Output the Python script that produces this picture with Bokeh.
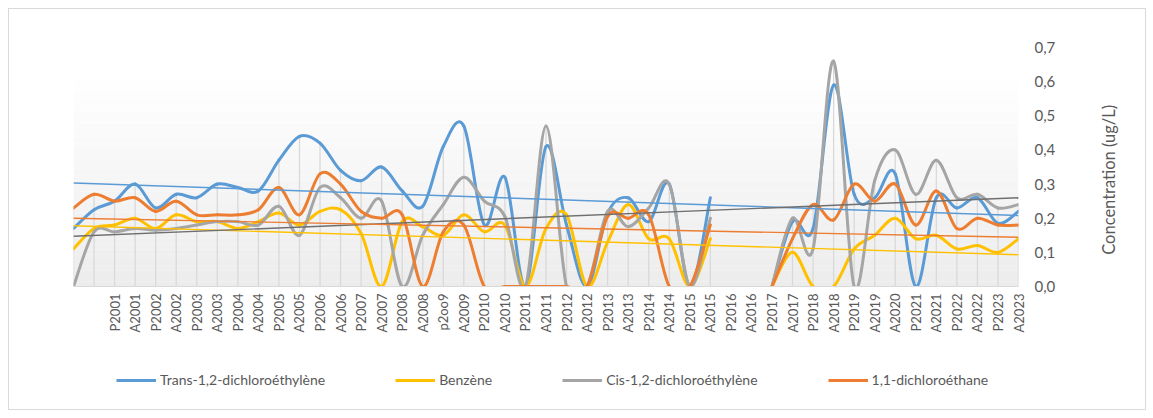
import math
from bokeh.plotting import figure
from bokeh.layouts import column
from bokeh.models import (Range1d, FixedTicker, Legend, LegendItem, LinearAxis,
                          ColumnDataSource)
from bokeh.embed import file_html
from bokeh.resources import INLINE

nan = float("nan")

# ---- data -------------------------------------------------------------
categories = ["", "",
              "P2001", "A2001", "P2002", "A2002", "P2003", "A2003", "P2004", "A2004",
              "P2005", "A2005", "P2006", "A2006", "P2007", "A2007", "P2008", "A2008",
              "p2oo9", "A2009", "P2010", "A2010", "P2011", "A2011", "P2012", "A2012",
              "P2013", "A2013", "P2014", "A2014", "P2015", "A2015", "P2016", "A2016",
              "P2017", "A2017", "P2018", "A2018", "P2019", "A2019", "A2020", "P2021",
              "A2021", "P2022", "A2022", "P2023", "A2023"]

trans_12_dce = [0.17, 0.225, 0.25, 0.30, 0.23, 0.27, 0.26, 0.30, 0.29, 0.28,
                0.37, 0.44, 0.42, 0.34, 0.31, 0.35, 0.28, 0.235, 0.41, 0.47,
                0.18, 0.32, 0.0, 0.41, 0.18, 0.0, 0.215, 0.26, 0.19, 0.30,
                0.0, 0.26, nan, nan, 0.0, 0.19, 0.17, 0.59, 0.27, 0.26,
                0.33, 0.0, 0.26, 0.23, 0.26, 0.185, 0.22]

benzene = [0.11, 0.17, 0.18, 0.20, 0.17, 0.21, 0.19, 0.19, 0.17, 0.19,
           0.215, 0.18, 0.22, 0.225, 0.155, 0.0, 0.19, 0.175, 0.15, 0.21,
           0.16, 0.18, 0.0, 0.17, 0.21, 0.0, 0.13, 0.24, 0.14, 0.14,
           0.0, 0.14, nan, nan, 0.0, 0.10, 0.0, 0.0, 0.11, 0.15,
           0.20, 0.14, 0.15, 0.11, 0.12, 0.10, 0.14]

cis_12_dce = [0.0, 0.16, 0.16, 0.17, 0.165, 0.17, 0.18, 0.19, 0.19, 0.18,
              0.235, 0.15, 0.29, 0.26, 0.20, 0.25, 0.0, 0.15, 0.24, 0.32,
              0.25, 0.205, 0.0, 0.47, 0.0, 0.0, 0.22, 0.175, 0.23, 0.30,
              0.0, 0.20, nan, nan, 0.0, 0.20, 0.11, 0.66, 0.0, 0.31,
              0.40, 0.27, 0.37, 0.26, 0.27, 0.23, 0.24]

dca_11 = [0.23, 0.27, 0.25, 0.26, 0.22, 0.25, 0.21, 0.21, 0.21, 0.225,
          0.29, 0.21, 0.33, 0.30, 0.22, 0.20, 0.21, 0.0, 0.16, 0.18,
          0.0, 0.0, 0.0, 0.0, 0.0, 0.0, 0.205, 0.20, 0.21, 0.0,
          0.0, 0.18, nan, nan, 0.0, 0.14, 0.24, 0.195, 0.30, 0.25,
          0.30, 0.18, 0.28, 0.17, 0.20, 0.18, 0.18]

# linear trend lines (value at first and last category)
trend_trans = [0.303, 0.208]
trend_benzene = [0.178, 0.093]
trend_cis = [0.147, 0.260]
trend_dca = [0.200, 0.144]

series_names = ["Trans-1,2-dichloroéthylène", "Benzène",
                "Cis-1,2-dichloroéthylène", "1,1-dichloroéthane"]
series_values = [trans_12_dce, benzene, cis_12_dce, dca_11]
trend_values = [trend_trans, trend_benzene, trend_cis, trend_dca]
series_colors = ["#5B9BD5", "#FFC000", "#A5A5A5", "#ED7D31"]
trend_colors = ["#5B9BD5", "#FFC000", "#6F6F6F", "#ED7D31"]

ytick_values = [0.0, 0.1, 0.2, 0.3, 0.4, 0.5, 0.6, 0.7]
ytick_labels = ["0,0", "0,1", "0,2", "0,3", "0,4", "0,5", "0,6", "0,7"]
y_title = "Concentration  (ug/L)"

FONT = "Lato"
TXT = "#595959"
n = len(categories)
W = 1136

p = figure(width=W, height=326, output_backend="svg", toolbar_location=None,
           x_range=Range1d(0, n - 1), y_range=Range1d(0, 0.7),
           y_axis_location="right",
           min_border_left=64, min_border_right=127,
           min_border_top=38, min_border_bottom=48)
p.outline_line_color = None
p.xgrid.visible = False
p.ygrid.visible = False
p.background_fill_color = "white"
p.border_fill_color = "white"

# plot-area gradient (white top -> light gray bottom)
nb = 40
g_top = 0.62
bands = dict(left=[], right=[], bottom=[], top=[], color=[])
for k in range(nb):
    b = g_top * k / nb
    t = g_top * (k + 1) / nb
    frac = 1 - (k + 0.5) / nb
    c = int(round(255 - (255 - 236) * frac))
    bands["left"].append(0)
    bands["right"].append(n - 1)
    bands["bottom"].append(b)
    bands["top"].append(t)
    bands["color"].append("#%02x%02x%02x" % (c, c, c))
p.quad(left="left", right="right", bottom="bottom", top="top", color="color",
       line_color=None, source=ColumnDataSource(bands))

# drop lines (from highest value of each category to the axis)
drop = dict(x=[], y0=[], y1=[])
for i in range(n):
    vals = [s[i] for s in series_values if not math.isnan(s[i])]
    if vals:
        drop["x"].append(i)
        drop["y0"].append(0)
        drop["y1"].append(max(vals))
p.segment(x0="x", y0="y0", x1="x", y1="y1", source=ColumnDataSource(drop),
          line_color="#D9D9D9", line_width=1.3)


def smooth_segments(vals, k=1.0 / 6.0):
    m = len(vals)

    def ok(j):
        return 0 <= j < m and not math.isnan(vals[j])

    d = dict(x0=[], y0=[], x1=[], y1=[], cx0=[], cy0=[], cx1=[], cy1=[])
    for j in range(m - 1):
        if not (ok(j) and ok(j + 1)):
            continue
        a = j - 1 if ok(j - 1) else j
        b = j + 2 if ok(j + 2) else j + 1
        d["x0"].append(j)
        d["y0"].append(vals[j])
        d["x1"].append(j + 1)
        d["y1"].append(vals[j + 1])
        d["cx0"].append(j + (j + 1 - a) * k)
        d["cy0"].append(vals[j] + (vals[j + 1] - vals[a]) * k)
        d["cx1"].append(j + 1 - (b - j) * k)
        d["cy1"].append(vals[j + 1] - (vals[b] - vals[j]) * k)
    return d


for vals, col in zip(series_values, series_colors):
    p.bezier(x0="x0", y0="y0", x1="x1", y1="y1", cx0="cx0", cy0="cy0",
             cx1="cx1", cy1="cy1", source=ColumnDataSource(smooth_segments(vals)),
             line_color=col, line_width=3, line_cap="round", line_join="round")

for tv, col in zip(trend_values, trend_colors):
    p.line(x=[0, n - 1], y=tv, line_color=col, line_width=1.4)

# x axis
xa = p.xaxis[0]
xa.ticker = FixedTicker(ticks=list(range(n)))
xa.major_label_overrides = {i: lab for i, lab in enumerate(categories)}
xa.major_label_orientation = math.pi / 2
xa.major_label_text_font = FONT
xa.major_label_text_font_size = "13px"
xa.major_label_text_color = TXT
xa.major_tick_line_color = None
xa.minor_tick_line_color = None
xa.major_tick_out = 0
xa.major_label_standoff = 7
xa.axis_line_color = "#D9D9D9"

# y axis (right)
ya = p.yaxis[0]
ya.ticker = FixedTicker(ticks=ytick_values)
ya.major_label_overrides = {v: lab for v, lab in zip(ytick_values, ytick_labels)}
ya.major_label_text_font = FONT
ya.major_label_text_font_size = "15px"
ya.major_label_text_color = TXT
ya.axis_line_color = None
ya.major_tick_line_color = None
ya.minor_tick_line_color = None
ya.major_tick_out = 0
ya.major_label_standoff = 16

# axis title, reading bottom-to-top, on the far right
title_pos = 0.093
ta = LinearAxis(ticker=FixedTicker(ticks=[title_pos]),
                major_label_overrides={title_pos: y_title},
                major_label_orientation=math.pi / 2,
                major_label_text_font=FONT, major_label_text_font_size="16.5px",
                major_label_text_color=TXT, axis_line_color=None,
                major_tick_line_color=None, minor_tick_line_color=None,
                major_tick_out=0, major_label_standoff=51)
p.add_layout(ta, "right")

# ---- legend strip under the chart ---------------------------------------
pl = figure(width=W, height=74, output_backend="svg", toolbar_location=None,
            x_range=Range1d(0, 1), y_range=Range1d(0, 1),
            x_axis_location=None, y_axis_location=None,
            min_border_left=0, min_border_right=0, min_border_top=0,
            min_border_bottom=0)
pl.outline_line_color = None
pl.xgrid.visible = False
pl.ygrid.visible = False
pl.background_fill_color = "white"
pl.border_fill_color = "white"

proxies = [pl.line(x=[nan], y=[nan], line_color=col, line_width=3)
           for col in series_colors]
legend = Legend(items=[LegendItem(label=nm, renderers=[r])
                       for nm, r in zip(series_names, proxies)],
                location=(43, 21), orientation="horizontal",
                glyph_width=40, glyph_height=16, label_standoff=4, spacing=70,
                padding=0, margin=0, border_line_color=None,
                background_fill_alpha=0, label_text_font=FONT,
                label_text_font_size="14px", label_text_color=TXT, label_height=16)
pl.add_layout(legend)

layout = column(p, pl, spacing=0,
                styles={"border": "1px solid #D9D9D9", "margin-left": "8px",
                        "margin-top": "8px"})

open("out.html", "w").write(file_html(layout, INLINE))
